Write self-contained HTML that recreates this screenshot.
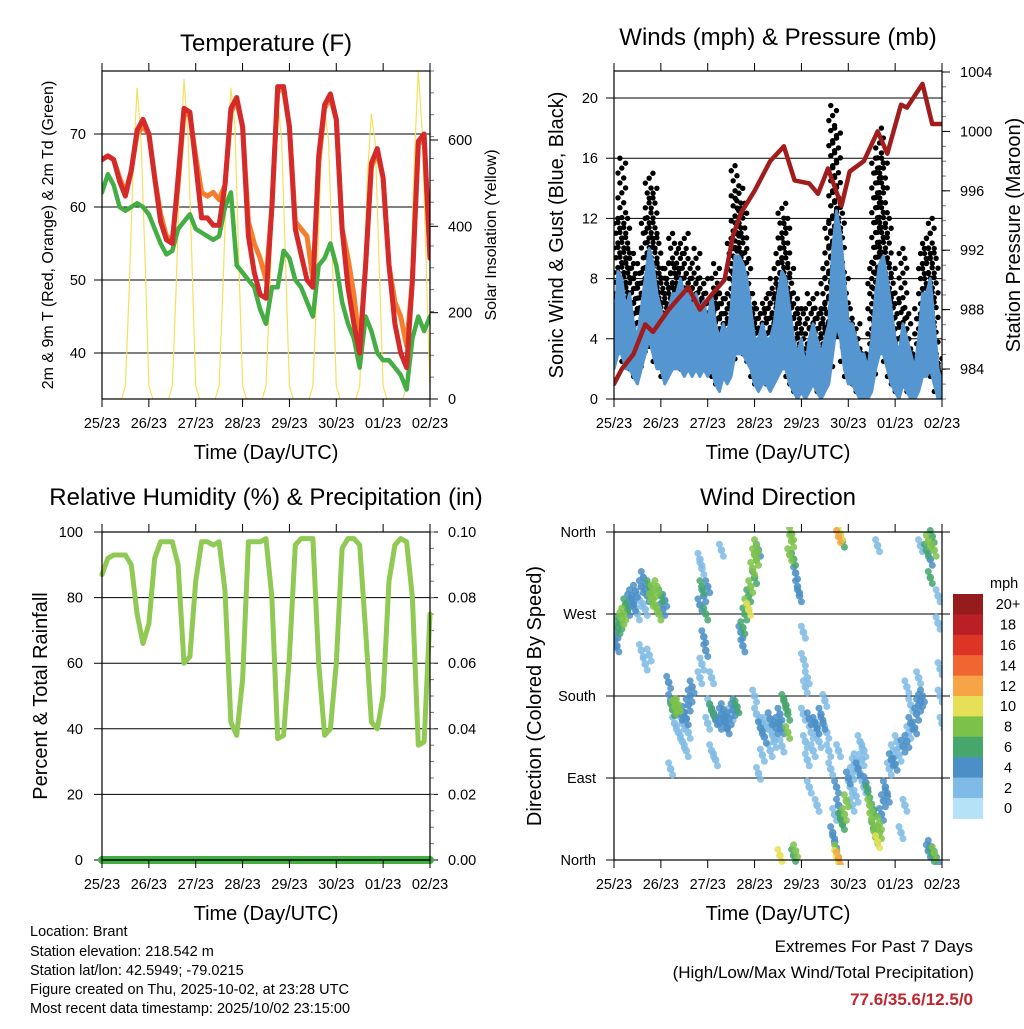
<!DOCTYPE html>
<html><head><meta charset="utf-8"><style>
html,body{margin:0;padding:0;background:#fff;}
svg text{font-family:"Liberation Sans",Arial,sans-serif;fill:#000;}
</style></head><body>
<svg id="fig" xmlns="http://www.w3.org/2000/svg" width="1024" height="1024" viewBox="0 0 1024 1024">
<rect x="0" y="0" width="1024" height="1024" fill="#fff"/>
<g id="titles">
<text x="266" y="51" font-size="24" text-anchor="middle">Temperature (F)</text>
<text x="778" y="45" font-size="24" text-anchor="middle">Winds (mph) &amp; Pressure (mb)</text>
<text x="266" y="505" font-size="24" text-anchor="middle">Relative Humidity (%) &amp; Precipitation (in)</text>
<text x="778" y="505" font-size="24" text-anchor="middle">Wind Direction</text>
</g>
<g id="info" font-size="14.5">
<text x="30" y="936">Location: Brant</text>
<text x="30" y="956">Station elevation: 218.542 m</text>
<text x="30" y="975">Station lat/lon: 42.5949; -79.0215</text>
<text x="30" y="994">Figure created on Thu, 2025-10-02, at 23:28 UTC</text>
<text x="30" y="1013">Most recent data timestamp: 2025/10/02 23:15:00</text>
</g>
<g id="extremes" text-anchor="end" font-size="17">
<text x="973" y="952">Extremes For Past 7 Days</text>
<text x="974" y="978">(High/Low/Max Wind/Total Precipitation)</text>
<text x="973" y="1005" font-weight="bold" style="fill:#c0262d">77.6/35.6/12.5/0</text>
</g>
</svg>
<script>
// ---------- data ----------
const dayLabels = ["25/23","26/23","27/23","28/23","29/23","30/23","01/23","02/23"];
// 3-hourly (t = 0..168 h)
const temp2m = [66.5,67,66.5,63.5,61.5,65,70.5,72,70,64,58,55.5,55,64,73.5,73,66,58.5,58.5,57.5,57.5,63,73.5,75,71,56,51,48,47.5,60,76.5,76.5,71,57,53.5,50,49,67,74,75.5,72,57,49,44,40,52,66,68,64,52,44,40,38,50,69,70,53];
const temp9m = [66.5,67,66.5,64,62,65,70,71,70,64,59,56,55.5,63,73,72.5,67,62,61.5,62,61,63,73,74.5,71,58,55,53,50,60,76,76,71,58,57,56,50,66,73.5,75,72,57,53,48,41,52,65.5,67.5,64,52,47,45,41,50,68.5,69.5,53];
const dewpt = [62,64.5,63,60,59.5,60,60.5,60,59,57,55,53.5,54,57,58,59,57,56.5,56,55.5,56,60,62,52,51,50,49,46,44,49,49,54,53,50,49,47,45,52,53,55,52,47,44,42,38,45,43,40,39,39,38,37,35,42,45,43,45];
// 2-hourly solar insolation (t = 0..168 h)
const solar = [0,0,0,0,0,0,30,260,540,720,600,330,30,
  0,0,0,0,0,30,260,560,740,620,330,30,
  0,0,0,0,0,30,260,540,720,640,330,30,
  0,0,0,0,0,30,250,540,690,600,320,30,
  0,0,0,0,0,30,250,540,670,600,320,30,
  0,0,0,0,0,30,240,520,660,590,310,30,
  0,0,0,0,0,30,260,560,760,620,320,20];
// 2-hourly wind (t = 0..168 h)
const windHi = [4,8.5,8,6,7,5,4,6,8,10,9,7, 6,5,6,7,7,8,7,7,6,7,6,6.5, 5,7,5,4,5,4,6,9.5,9.5,9,8,6, 4,4,5,4,4,5,7,8.5,8,6,4,3, 4,2,4,5,4,3,4,5,10,12.5,11,8, 5,5,4,3,3,2,4,7,9,9.5,8,6, 4,3,5,4,3,2,4,7,7,8,5,2,1];
const windLo = [2,3,3,2,2,1.5,1,2,3,4,3,2, 2,1,1.5,2,2,2,1.5,2,1.5,2,1.5,2, 1.5,2,1,0.5,1.5,1,1.5,3,3,3,2.5,2, 1,0.5,1,1,0.5,1,1.5,2,2,1,0.5,0, 0.5,0,0.5,1,0.5,0,0.5,1,3,5,4,2, 1,1,0.5,0,0,0,0.5,2,3,3,2,1, 0.5,0,1,0.5,0,0,0.5,1.5,1.5,2,1,0,0];
const gustHi = [7,12,16,12,10,9,8,9,12,15,14,11, 9,8,9,11,9,10,11,9,8,10,8,8, 7,7,9,7,7,6,11,15.5,14,13,10,7, 6,6,6,7,7,8,10,13,12,9,7,6, 6,3,7,7,6,6,9,12,19.5,18,13,8, 6,5,5,3,3,3,9,16,18,16,12,9, 7,4,10,6,3,3,6,10,11,12,10,3,2];
// pressure (hours, mb)
const presT = [0,4,10,16,20,28,38,44,50,56.6,61,65,72,80,87,92.5,100,104.5,109.6,116.5,120.7,128,135,140,147,150,158,163,168];
const presV = [983,984,985,987,986.5,988,989.5,988,989,990,993,994.5,996,998,999,996.7,996.5,995.8,997.5,995,997.3,998,1000,998.5,1001.8,1001.6,1003.2,1000.5,1000.5];
// 3-hourly relative humidity
const rh = [87,92,93,93,93,90,75,66,72,92,97,97,97,90,60,62,85,97,97,96,97,82,42,38,55,97,97,97,98,80,37,38,62,96,98,98,98,60,38,40,60,95,98,98,96,70,42,40,50,85,96,98,97,80,35,36,75];
const precip = [0,0,0,0,0,0,0,0];
// wind direction samples (hour, degrees, mph)
const dirT = [0,1,1.5,2,3,4,5,6,7,8,9,10,11,12,13,14,15,16,17,18,19,20,21,22,23,24,25,26,14,16,18,
 28,29,30,31,32,33,34,35,36,37,38,39,40,31,33,35,37,29,38,
 44,45,46,47,48,46,47,45,44,45,48,49,50,51,52,54,55,56,57,58,59,60,61,62,63,52,50,50,
 65,66,66,67,68,69,70,71,72,73,73,72,74,69,
 72,73,75,76,77,78,80,81,82,84,85,86,87,88,76,80,74,86,83,
 89,89,90,91,91,92,93,94,95,93,92,97,97,98,
 97,98,99,100,101,102,103,104,105,106,107,108,109,110,111,100,104,
 112,113,114,114,115,115,116,117,115,116,117,118,119,113,114,
 120,121,122,123,124,125,126,127,128,124,126,122,128,
 129,130,131,132,133,134,135,136,137,138,139,140,133,136,
 141,142,143,144,145,146,148,150,151,152,154,155,156,157,158,150,152,149,147,156,
 160,161,162,163,162,161,162,163,164,165,166,166,167,167,168,164,
 55,115,135,157,99,44,85];
const dirD = [240,250,235,255,260,265,270,280,275,285,290,280,295,270,285,300,310,275,290,300,285,295,280,300,270,290,275,285,230,215,225,
 195,175,165,168,170,170,160,150,162,155,170,180,190,150,140,130,120,100,140,
 280,300,290,270,300,245,230,215,200,320,150,170,165,160,155,150,160,165,150,145,155,160,165,170,168,110,200,120,
 250,255,235,270,280,290,300,320,335,345,330,310,340,275,
 180,160,145,150,135,150,155,140,130,150,160,145,175,170,115,120,95,125,145,
 160,140,335,350,358,330,315,300,290,10,5,250,220,190,
 160,130,110,155,140,120,150,145,130,160,150,175,140,120,100,80,60,
 30,20,10,4,2,355,358,350,60,45,40,50,65,50,80,
 90,80,95,105,110,100,95,110,120,70,130,60,80,
 85,75,60,45,35,25,20,40,50,65,80,70,55,30,
 100,110,120,105,130,115,125,130,140,150,145,160,170,175,180,190,170,60,30,200,
 340,350,330,355,310,10,15,5,8,3,260,290,180,210,150,340,
 340,120,345,345,200,330,5];
const dirS = [4,4,3,6,6,8,8,6,4,4,4,4,4,2,2,4,4,2,4,6,8,8,8,8,8,6,4,4,2,2,2,
 4,4,6,8,8,8,4,2,4,4,4,4,4,2,2,2,2,2,2,
 4,6,4,6,4,4,4,2,2,2,2,2,6,4,4,4,4,4,4,4,4,2,4,4,6,2,2,2,
 4,6,4,6,8,6,8,8,8,8,8,6,4,10,
 2,2,4,2,4,2,4,2,2,4,4,4,6,6,2,2,2,2,4,
 6,8,8,8,8,6,4,4,4,8,6,2,2,2,
 2,2,2,4,2,2,4,4,2,4,4,2,2,2,2,2,2,
 4,4,8,10,12,12,10,6,4,6,6,8,8,2,4,
 4,2,2,2,2,4,2,2,2,2,2,2,2,
 4,6,8,8,6,8,10,8,4,4,4,4,6,8,
 2,4,2,4,2,2,4,4,2,4,4,4,4,4,4,2,2,2,2,2,
 6,8,4,6,6,4,4,6,8,4,2,2,2,2,2,8,
 2,2,2,2,2,2,10];
const speedBins = ["0","2","4","6","8","10","12","14","16","18","20+"];
const speedColors = ["#b6e2f8","#80bbe5","#4b8fc7","#46a66c","#7cc24a","#e5e056","#f6a445","#f16630","#dc3526","#bb1f26","#951b1c"];
const tempTicks=[40,50,60,70], solarTicks=[0,200,400,600];
const windTicks=[0,4,8,12,16,20], presTicks=[984,988,992,996,1000,1004];
const rhTicks=[0,20,40,60,80,100], precipTicks=["0.00","0.02","0.04","0.06","0.08","0.10"];
const dirNames=["North","East","South","West","North"];

// ---------- helpers ----------
const NS="http://www.w3.org/2000/svg";
const svg=document.getElementById('fig');
function mk(tag,attrs,parent){const e=document.createElementNS(NS,tag);for(const k in attrs)e.setAttribute(k,attrs[k]);(parent||svg).appendChild(e);return e;}
function txt(s,attrs,parent){const e=mk('text',attrs,parent);e.textContent=s;return e;}
function lin(d0,d1,r0,r1){return v=>r0+(v-d0)*(r1-r0)/(d1-d0);}
const X0L=102,X1L=430,X0R=614,X1R=942,YT0=71,YT1=399,YB0=532,YB1=860;
const xL=lin(0,168,X0L,X1L), xR=lin(0,168,X0R,X1R);

function frame(g,x0,x1,y0,y1,x,baseY){
  mk('rect',{x:x0,y:y0,width:x1-x0,height:y1-y0,fill:'none',stroke:'#000','stroke-width':1.2},g);
  for(let d=0;d<=7;d++){const xx=x(d*24);
    mk('line',{x1:xx,y1:y0-8,x2:xx,y2:y0,stroke:'#000','stroke-width':1},g);
    mk('line',{x1:xx,y1:y1,x2:xx,y2:y1+8,stroke:'#000','stroke-width':1},g);
    const t=txt(dayLabels[d],{x:xx,y:y1+29,'font-size':14.5,'text-anchor':'middle'},g);
    
    
  }
  const tt=txt('Time (Day/UTC)',{x:(x0+x1)/2,y:y1+60,'font-size':20,'text-anchor':'middle'},g);
  
  
}
function group(name){const g=mk('g',{});return g;}
function polyline(xs,ys,attrs,g){const pts=xs.map((v,i)=>v.toFixed(1)+','+ys[i].toFixed(1)).join(' ');return mk('polyline',Object.assign({points:pts,fill:'none','stroke-linejoin':'round','stroke-linecap':'round'},attrs),g);}
function rightMinor(g,x1,y0,y1,n){for(let i=0;i<=n;i++){const y=y0+(y1-y0)*i/n;mk('line',{x1:x1,y1:y,x2:x1+4,y2:y,stroke:'#777','stroke-width':1},g);}}

// ---------- Temperature panel ----------
(function(){
  const g=group('temperature-panel');
  const y=lin(40,70,353,134), ys=lin(0,600,399,140);
  tempTicks.forEach(v=>{mk('line',{x1:94,y1:y(v),x2:X1L,y2:y(v),stroke:'#000','stroke-width':1},g);
    const t=txt(v,{x:86,y:y(v)+5,'font-size':14.5,'text-anchor':'end'},g);
    });
  rightMinor(g,X1L,YT0,YT1,15);
  solarTicks.forEach(v=>{mk('line',{x1:X1L,y1:ys(v),x2:X1L+8,y2:ys(v),stroke:'#000'},g);
    const t=txt(v,{x:448,y:ys(v)+5,'font-size':14.5},g);
    });
  const cp=mk('clipPath',{id:'cT'},g);mk('rect',{x:X0L,y:YT0,width:X1L-X0L,height:YT1-YT0},cp);
  const d=mk('g',{'clip-path':'url(#cT)'},g);
  const sx=solar.map((v,i)=>xL(i*2));
  const sl=polyline(sx,solar.map(ys),{stroke:'#f7df5e','stroke-width':1.2},d);
  
  const tx=temp2m.map((v,i)=>xL(i*3));
  const gl=polyline(tx,dewpt.map(y),{stroke:'#44ad44','stroke-width':4.5},d);
  
  const ol=polyline(tx,temp9m.map(y),{stroke:'#f47e2c','stroke-width':5},d);
  
  const rl=polyline(tx,temp2m.map(y),{stroke:'#d42a2a','stroke-width':5},d);
  
  frame(g,X0L,X1L,YT0,YT1,xL);
  const a=txt('2m & 9m T (Red, Orange) & 2m Td (Green)',{x:0,y:0,'font-size':16,'text-anchor':'middle',transform:'translate(53,235) rotate(-90)'},g);
  
  const b=txt('Solar Insolation (Yellow)',{x:0,y:0,'font-size':16,'text-anchor':'middle',transform:'translate(496,235) rotate(-90)'},g);
  
})();

// ---------- Wind panel ----------
(function(){
  const g=group('wind-panel');
  const y=lin(0,20,399,98), yp=lin(984,1004,369,72);
  windTicks.forEach(v=>{mk('line',{x1:606,y1:y(v),x2:X1R,y2:y(v),stroke:'#000','stroke-width':1},g);
    const t=txt(v,{x:598,y:y(v)+5,'font-size':14.5,'text-anchor':'end'},g);
    });
  rightMinor(g,X1R,72,399,22);
  presTicks.forEach(v=>{mk('line',{x1:X1R,y1:yp(v),x2:X1R+8,y2:yp(v),stroke:'#000'},g);
    const t=txt(v,{x:960,y:yp(v)+5,'font-size':14.5},g);
    });
  const cp=mk('clipPath',{id:'cW'},g);mk('rect',{x:X0R,y:YT0,width:X1R-X0R,height:YT1-YT0},cp);
  const d=mk('g',{'clip-path':'url(#cW)'},g);
  // gust dots
  const gg=mk('g',{fill:'#000'},d);
  
  gustHi.forEach((gv,i)=>{
    const lo=windLo[i]+0.5, hi=gv;
    const n=Math.max(3,Math.round((hi-lo)*3));
    for(let k=0;k<=n;k++){const v=lo+(hi-lo)*k/n;
      const off=((k*7)%5-2)*1.9;
      mk('circle',{cx:xR(i*2)+off,cy:y(v),r:2.7},gg);}
  });
  // blue band
  const bx=windHi.map((v,i)=>xR(i*2));
  const pts=bx.map((xx,i)=>xx.toFixed(1)+','+y(windHi[i]).toFixed(1)).concat(bx.map((xx,i)=>xx.toFixed(1)+','+y(windLo[i]).toFixed(1)).reverse()).join(' ');
  const band=mk('polygon',{points:pts,fill:'#5596d0',stroke:'#5596d0','stroke-width':3,'stroke-linejoin':'round'},d);
  
  const pl=polyline(presT.map(xR),presV.map(yp),{stroke:'#a11d1d','stroke-width':4.5},d);
  
  frame(g,X0R,X1R,YT0,YT1,xR);
  const a=txt('Sonic Wind & Gust (Blue, Black)',{x:0,y:0,'font-size':20,'text-anchor':'middle',transform:'translate(563,235) rotate(-90)'},g);
  
  const b=txt('Station Pressure (Maroon)',{x:0,y:0,'font-size':20,'text-anchor':'middle',transform:'translate(1020,235) rotate(-90)'},g);
  
})();

// ---------- RH panel ----------
(function(){
  const g=group('rh-panel');
  const y=lin(0,100,YB1,YB0);
  rhTicks.forEach((v,i)=>{mk('line',{x1:94,y1:y(v),x2:X1L,y2:y(v),stroke:'#000','stroke-width':1},g);
    const t=txt(v,{x:83,y:y(v)+5,'font-size':14.5,'text-anchor':'end'},g);
    
    mk('line',{x1:X1L,y1:y(v),x2:X1L+8,y2:y(v),stroke:'#000'},g);
    const t2=txt(precipTicks[i],{x:448,y:y(v)+5,'font-size':14.5},g);
    });
  rightMinor(g,X1L,YB0,YB1,20);
  const cp=mk('clipPath',{id:'cR'},g);mk('rect',{x:X0L-8,y:YB0,width:X1L-X0L+16,height:YB1-YB0+8},cp);
  const d=mk('g',{'clip-path':'url(#cR)'},g);
  const rl=polyline(rh.map((v,i)=>xL(i*3)),rh.map(y),{stroke:'#90c953','stroke-width':5},d);
  
  const yp=lin(0,0.1,YB1,YB0);
  const pr=polyline(precip.map((v,i)=>xL(i*24)),precip.map(yp),{stroke:'#44ad44','stroke-width':8},d);
  
  frame(g,X0L,X1L,YB0,YB1,xL);
  mk('line',{x1:X0L,y1:YB1,x2:X1L,y2:YB1,stroke:'#000','stroke-width':1.2},g);
  const a=txt('Percent & Total Rainfall',{x:0,y:0,'font-size':20,'text-anchor':'middle',transform:'translate(47,696) rotate(-90)'},g);
  
})();

// ---------- Wind direction panel ----------
(function(){
  const g=group('wind-direction-panel');
  const y=lin(0,360,YB1,YB0);
  dirNames.forEach((n,i)=>{const yy=y(i*90);
    mk('line',{x1:606,y1:yy,x2:950,y2:yy,stroke:'#000','stroke-width':1},g);
    const t=txt(n,{x:596,y:yy+5,'font-size':14.5,'text-anchor':'end'},g);
    });
  const cp=mk('clipPath',{id:'cD'},g);mk('rect',{x:X0R,y:YB0-5,width:X1R-X0R,height:YB1-YB0+10},cp);
  const d=mk('g',{'clip-path':'url(#cD)'},g);
  
  
  const order=dirS.map((s,i)=>i).sort((a,b)=>dirS[a]-dirS[b]);
  order.forEach(i=>{const bi=Math.min(10,Math.round(dirS[i]/2));
    const cx=xR(dirT[i]), cy=y(dirD[i]);
    mk('circle',{cx:cx,cy:cy,r:3.8,fill:speedColors[bi],'fill-opacity':0.9},d);
    mk('circle',{cx:cx+2,cy:cy+6,r:3.5,fill:speedColors[bi],'fill-opacity':0.85},d);
    mk('circle',{cx:cx-2,cy:cy-6,r:3.5,fill:speedColors[bi],'fill-opacity':0.85},d);});
  frame(g,X0R,X1R,YB0,YB1,xR);
  const a=txt('Direction (Colored By Speed)',{x:0,y:0,'font-size':20,'text-anchor':'middle',transform:'translate(541,696) rotate(-90)'},g);
  
  // colorbar
  const cb=group('speed-colorbar');
  const cbTop=594,h=20.4;
  const m=txt('mph',{x:990,y:588,'font-size':14.5},cb);
  
  for(let k=0;k<11;k++){const idx=10-k;
    const r=mk('rect',{x:953,y:cbTop+k*h,width:30,height:h+0.5,fill:speedColors[idx]},cb);
    
    const t=txt(speedBins[idx],{x:1008,y:cbTop+k*h+h/2+5,'font-size':14.5,'text-anchor':'middle'},cb);
    }
})();
</script>
</body></html>
